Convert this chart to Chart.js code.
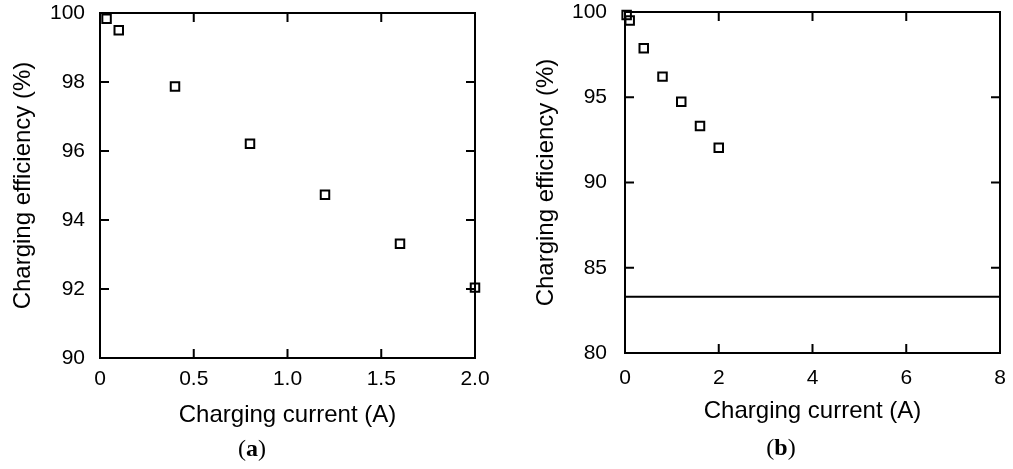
<!DOCTYPE html>
<html>
<head>
<meta charset="utf-8">
<script src="https://cdn.jsdelivr.net/npm/chart.js@4/dist/chart.umd.min.js"></script>
<style>
body { margin: 0; background: #fff; }
.panel { position: absolute; top: 0; height: 469px; }
.cap { position: absolute; font-family: "Liberation Serif", serif; font-size: 24px; color: #000; transform: translate(-50%, -50%); }
</style>
</head>
<body>
<div class="panel" style="left:0;width:500px"><canvas id="chartA"></canvas></div>
<div class="panel" style="left:510px;width:503px"><canvas id="chartB"></canvas></div>
<div class="cap" style="left:252px;top:448px">(<b>a</b>)</div>
<div class="cap" style="left:781px;top:447px">(<b>b</b>)</div>
<script>
// measured points, same in both panels
const current = [0.035, 0.1, 0.4, 0.8, 1.2, 1.6, 2.0];
const efficiency = [99.83, 99.5, 97.87, 96.21, 94.73, 93.31, 92.04];
// horizontal reference line in panel (b)
const lineX = [0, 8];
const lineY = [83.3, 83.3];

const pts = (xs, ys) => xs.map((x, i) => ({ x: x, y: ys[i] }));

const tickFont = { family: 'Liberation Sans, Arial, sans-serif', size: 21 };
const titleFont = { family: 'Liberation Sans, Arial, sans-serif', size: 24 };

// box around the plot with inward ticks on all four sides
const framePlugin = {
    id: 'frame',
    afterDatasetsDraw(chart) {
        const ctx = chart.ctx;
        const a = chart.chartArea;
        const len = 9;
        ctx.save();
        ctx.strokeStyle = '#000';
        ctx.lineWidth = 2;
        ctx.strokeRect(a.left, a.top, a.right - a.left, a.bottom - a.top);
        ctx.beginPath();
        chart.scales.x.ticks.forEach(t => {
            const px = chart.scales.x.getPixelForValue(t.value);
            ctx.moveTo(px, a.bottom); ctx.lineTo(px, a.bottom - len);
            ctx.moveTo(px, a.top); ctx.lineTo(px, a.top + len);
        });
        chart.scales.y.ticks.forEach(t => {
            const py = chart.scales.y.getPixelForValue(t.value);
            ctx.moveTo(a.left, py); ctx.lineTo(a.left + len, py);
            ctx.moveTo(a.right, py); ctx.lineTo(a.right - len, py);
        });
        ctx.stroke();
        ctx.restore();
    }
};

function makeOptions(o) {
    return {
        responsive: true,
        maintainAspectRatio: false,
        animation: false,
        layout: { padding: o.padding },
        plugins: { legend: { display: false }, tooltip: { enabled: false } },
        scales: {
            x: {
                type: 'linear', min: o.xMin, max: o.xMax,
                grid: { display: false, drawTicks: false }, border: { display: false },
                ticks: { stepSize: o.xStep, color: '#000', font: tickFont, padding: o.xPad, maxRotation: 0,
                         callback: o.xFmt },
                title: { display: true, text: 'Charging current (A)', color: '#000', font: titleFont, padding: 4 },
                afterFit: s => { s.height = o.xHeight; s.paddingLeft = 0; s.paddingRight = 0; }
            },
            y: {
                type: 'linear', min: o.yMin, max: o.yMax,
                grid: { display: false, drawTicks: false }, border: { display: false },
                ticks: { stepSize: o.yStep, color: '#000', font: tickFont, padding: o.yPad },
                title: { display: true, text: 'Charging efficiency (%)', color: '#000', font: titleFont, padding: 4 },
                afterFit: s => { s.width = o.yWidth; s.paddingTop = 0; s.paddingBottom = 0; }
            }
        }
    };
}

const pointSet = {
    type: 'scatter',
    data: pts(current, efficiency),
    pointStyle: 'rect',
    pointRadius: 6,
    pointBorderWidth: 2,
    pointBorderColor: '#000',
    pointBackgroundColor: 'rgba(0,0,0,0)',
    showLine: false,
    clip: false
};

new Chart(document.getElementById('chartA'), {
    type: 'scatter',
    data: { datasets: [Object.assign({}, pointSet)] },
    options: makeOptions({
        padding: { left: 5, top: 13, right: 25, bottom: 35 },
        xMin: 0, xMax: 2, xStep: 0.5, xPad: 9, xHeight: 76,
        xFmt: v => v === 0 ? '0' : v.toFixed(1),
        yMin: 90, yMax: 100, yStep: 2, yPad: 15, yWidth: 95
    }),
    plugins: [framePlugin]
});

new Chart(document.getElementById('chartB'), {
    type: 'scatter',
    data: {
        datasets: [
            Object.assign({}, pointSet),
            {
                type: 'line',
                data: pts(lineX, lineY),
                borderColor: '#000',
                borderWidth: 2,
                pointRadius: 0,
                fill: false
            }
        ]
    },
    options: makeOptions({
        padding: { left: 18, top: 12, right: 13, bottom: 39 },
        xMin: 0, xMax: 8, xStep: 2, xPad: 13, xHeight: 77,
        xFmt: v => String(v),
        yMin: 80, yMax: 100, yStep: 5, yPad: 18, yWidth: 97
    }),
    plugins: [framePlugin]
});
</script>
</body>
</html>
